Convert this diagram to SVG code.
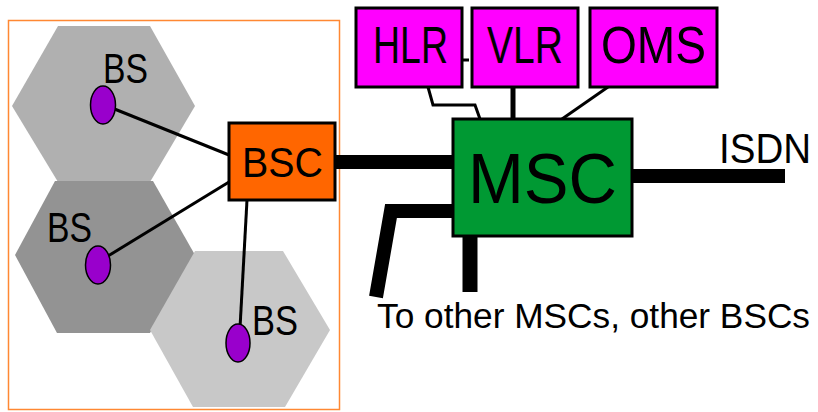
<svg xmlns="http://www.w3.org/2000/svg" width="818" height="412" viewBox="0 0 818 412">
<style>
text{font-family:"Liberation Sans",Arial,sans-serif;fill:#000}
.box{stroke:#000;stroke-width:3}
.bs{fill:#9900cc;stroke:#000;stroke-width:1.5}
.thin{fill:none;stroke:#000;stroke-width:3}
.thick{fill:none;stroke:#000;stroke-linejoin:miter}
</style>
<rect width="818" height="412" fill="#fff"/>
<rect x="8.5" y="20.5" width="331" height="389" fill="none" stroke="#ff8833" stroke-width="1.5"/>
<g id="cells">
<polygon points="58,26 150,26 195,106 150,182 58,182 12,106" fill="#b0b0b0"/>
<polygon points="55,181 153,181 195,255 150,333 57,333 15,255" fill="#939393"/>
<polygon points="195,251 283,251 330,330 285,407 193,407 150,330" fill="#c8c8c8"/>
</g>
<g id="connectors">
<line class="thin" x1="112" y1="108" x2="229" y2="155"/>
<line class="thin" x1="108" y1="256" x2="229" y2="182"/>
<line class="thin" x1="247" y1="200" x2="240" y2="328"/>
<line class="thick" x1="335" y1="162" x2="453" y2="162" stroke-width="14"/>
<line class="thick" x1="631" y1="176" x2="785" y2="176" stroke-width="14"/>
<polyline class="thick" points="453,211 391,211 376,297" stroke-width="14"/>
<line class="thick" x1="470" y1="236" x2="470" y2="292" stroke-width="15"/>
<polyline class="thin" points="428,87 433,105 475,105 480,119" stroke-width="2"/>
<line class="thin" x1="462" y1="60" x2="469" y2="60" stroke-width="2"/>
<line class="thick" x1="513" y1="87" x2="513" y2="119" stroke-width="5"/>
<line class="thin" x1="608" y1="87" x2="562" y2="119"/>
</g>
<g id="bs1">
<ellipse class="bs" cx="103" cy="105" rx="12.5" ry="19"/>
<text x="103" y="83" font-size="43" textLength="45" lengthAdjust="spacingAndGlyphs">BS</text>
</g>
<g id="bs2">
<ellipse class="bs" cx="98" cy="265" rx="12.5" ry="19"/>
<text x="47" y="242" font-size="43" textLength="45" lengthAdjust="spacingAndGlyphs">BS</text>
</g>
<g id="bs3">
<ellipse class="bs" cx="238" cy="343" rx="12" ry="19"/>
<text x="252" y="335" font-size="43" textLength="46" lengthAdjust="spacingAndGlyphs">BS</text>
</g>
<g id="bsc">
<rect class="box" x="229" y="123" width="106" height="77" fill="#ff6600"/>
<text x="242" y="177" font-size="42" textLength="81" lengthAdjust="spacingAndGlyphs">BSC</text>
</g>
<g id="hlr">
<rect class="box" x="356" y="8" width="106" height="79" fill="#ff00ff"/>
<text x="373" y="63" font-size="52" textLength="75" lengthAdjust="spacingAndGlyphs">HLR</text>
</g>
<g id="vlr">
<rect class="box" x="472" y="8" width="106" height="79" fill="#ff00ff"/>
<text x="487" y="63" font-size="52" textLength="76" lengthAdjust="spacingAndGlyphs">VLR</text>
</g>
<g id="oms">
<rect class="box" x="590" y="8" width="127" height="79" fill="#ff00ff"/>
<text x="601" y="63" font-size="52" textLength="105" lengthAdjust="spacingAndGlyphs">OMS</text>
</g>
<g id="msc">
<rect class="box" x="453" y="119" width="179" height="117" fill="#009933"/>
<text x="468" y="203" font-size="71" textLength="149" lengthAdjust="spacingAndGlyphs">MSC</text>
</g>
<g id="labels">
<text x="719" y="163" font-size="42" textLength="92" lengthAdjust="spacingAndGlyphs">ISDN</text>
<text x="377" y="328" font-size="35" textLength="433" lengthAdjust="spacingAndGlyphs">To other MSCs, other BSCs</text>
</g>
</svg>
